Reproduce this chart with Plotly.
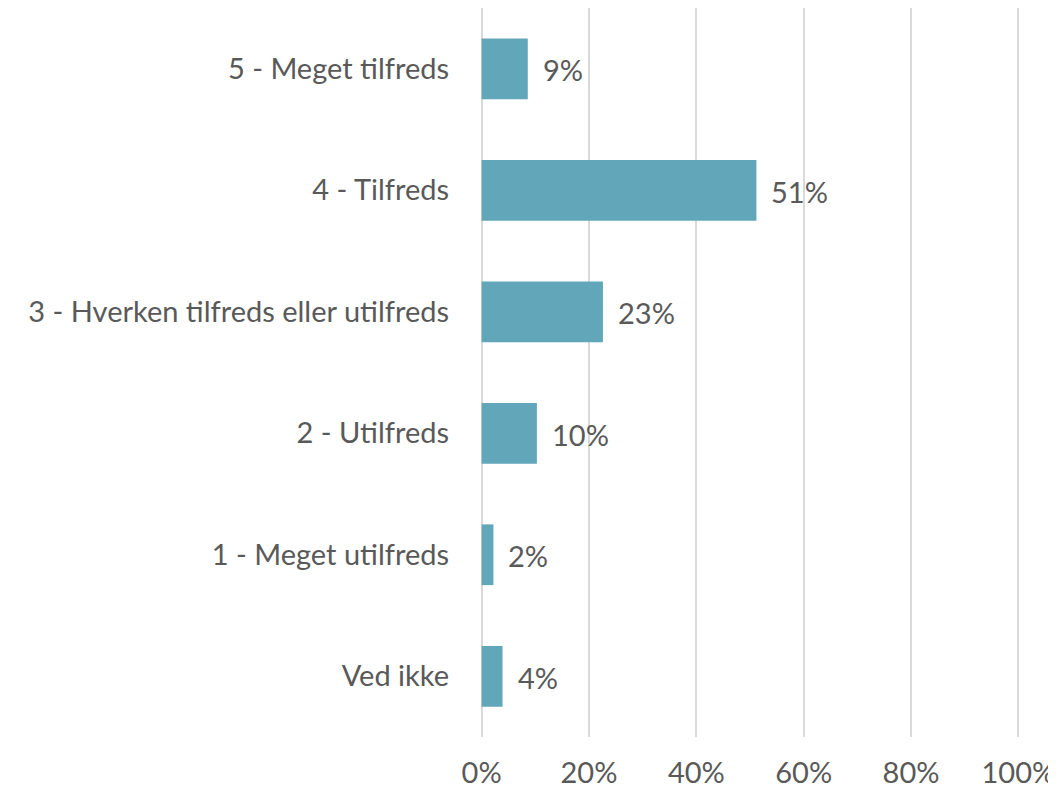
import plotly.graph_objects as go

categories = ["5 - Meget tilfreds", "4 - Tilfreds", "3 - Hverken tilfreds eller utilfreds",
              "2 - Utilfreds", "1 - Meget utilfreds", "Ved ikke"]
values = [0.086, 0.512, 0.226, 0.103, 0.022, 0.039]
labels = ["9%", "51%", "23%", "10%", "2%", "4%"]
tick_vals = [0, 0.2, 0.4, 0.6, 0.8, 1.0]
tick_text = ["0%", "20%", "40%", "60%", "80%", "100%"]

font_family = "Lato, 'Open Sans', sans-serif"
grey = "#595959"
fs = 29

fig = go.Figure(go.Bar(
    y=categories, x=values, orientation="h",
    marker=dict(color="#62A6BA", line=dict(width=0)),
    width=0.5,
    hoverinfo="skip",
))

for cat, v, lab in zip(categories, values, labels):
    fig.add_annotation(x=v, y=cat, text=lab, showarrow=False,
                       xanchor="left", yanchor="middle", xshift=13, yshift=-1,
                       font=dict(size=fs, color=grey, family=font_family))

# page body has an 8px default margin, so the figure is offset by 8px
fig.update_layout(
    width=1048, height=783,
    margin=dict(l=472, r=36, t=0, b=54, autoexpand=False),
    paper_bgcolor="white", plot_bgcolor="white",
    showlegend=False,
    font=dict(family=font_family, size=fs, color=grey),
    xaxis=dict(range=[-0.003, 1.003], tickvals=tick_vals, ticktext=tick_text,
               showgrid=True, gridcolor="#D9D9D9", gridwidth=2,
               zeroline=False, showline=False, ticks="", automargin=False,
               ticklabeloverflow="allow",
               tickfont=dict(size=fs, color=grey), ticklabelstandoff=16),
    yaxis=dict(categoryorder="array", categoryarray=categories[::-1],
               showgrid=False, zeroline=False, showline=False, ticks="", automargin=False,
               tickfont=dict(size=fs, color=grey), ticklabelstandoff=30),
)

fig.write_html("out.html")
